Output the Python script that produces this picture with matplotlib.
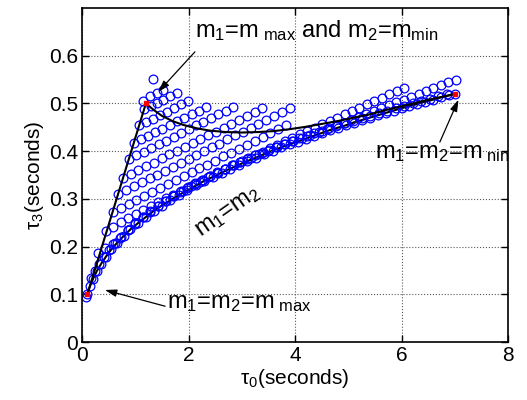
import matplotlib.pyplot as plt

plt.rcParams['font.family'] = ['Liberation Sans', 'DejaVu Sans']
plt.rcParams['mathtext.fontset'] = 'custom'
plt.rcParams['mathtext.rm'] = 'Liberation Sans'
plt.rcParams['mathtext.it'] = 'Liberation Sans:italic'

# template rows (tau0, tau3), top of the fan first
r0_x = [1.33]
r0_y = [0.551]
r1_x = [1.15, 1.27, 1.40, 1.53]
r1_y = [0.505, 0.515, 0.522, 0.528]
r2_x = [1.17, 1.29, 1.41, 1.53, 1.66, 1.78]
r2_y = [0.488, 0.494, 0.501, 0.508, 0.515, 0.522]
r3_x = [1.07, 1.20, 1.33, 1.46, 1.60, 1.73, 1.86, 1.99]
r3_y = [0.454, 0.461, 0.468, 0.476, 0.483, 0.491, 0.498, 0.505]
r4_x = [0.97, 1.11, 1.24, 1.38, 1.51, 1.65, 1.79, 1.92, 2.06, 2.19, 2.33]
r4_y = [0.417, 0.425, 0.432, 0.440, 0.447, 0.455, 0.463, 0.470, 0.478, 0.485, 0.493]
r5_x = [0.88, 1.02, 1.16, 1.30, 1.44, 1.58, 1.72, 1.86, 2.00, 2.14, 2.28, 2.42,
        2.56, 2.70, 2.84]
r5_y = [0.383, 0.391, 0.399, 0.407, 0.414, 0.422, 0.430, 0.438, 0.446, 0.454,
        0.462, 0.469, 0.477, 0.485, 0.493]
r6_x = [0.77, 0.92, 1.06, 1.21, 1.35, 1.50, 1.64, 1.79, 1.93, 2.08, 2.22, 2.37,
        2.51, 2.66, 2.80, 2.95, 3.09, 3.24, 3.38]
r6_y = [0.344, 0.352, 0.360, 0.368, 0.376, 0.385, 0.393, 0.401, 0.409, 0.417,
        0.425, 0.433, 0.441, 0.449, 0.457, 0.466, 0.474, 0.482, 0.490]
r7_x = [0.68, 0.83, 0.97, 1.12, 1.27, 1.41, 1.56, 1.70, 1.85, 2.00, 2.14, 2.29,
        2.44, 2.58, 2.73, 2.88, 3.02, 3.17, 3.31, 3.46, 3.61, 3.75, 3.90]
r7_y = [0.310, 0.318, 0.326, 0.335, 0.343, 0.351, 0.359, 0.367, 0.375, 0.384,
        0.392, 0.400, 0.408, 0.416, 0.425, 0.433, 0.441, 0.449, 0.457, 0.465,
        0.474, 0.482, 0.490]
r8_x = [0.58, 0.73, 0.88, 1.02, 1.17, 1.32, 1.47, 1.61, 1.76, 1.91, 2.06, 2.20,
        2.35, 2.50, 2.65, 2.79, 2.94, 3.09, 3.24, 3.39, 3.53, 3.68, 3.83]
r8_y = [0.273, 0.281, 0.290, 0.298, 0.306, 0.314, 0.323, 0.331, 0.339, 0.347,
        0.356, 0.364, 0.372, 0.380, 0.389, 0.397, 0.405, 0.413, 0.422, 0.430,
        0.438, 0.446, 0.455]
r9_x = [0.45, 0.59, 0.73, 0.87, 1.01, 1.15, 1.29, 1.43, 1.57, 1.71, 1.85, 1.99,
        2.13, 2.27, 2.41, 2.55, 2.69, 2.83, 2.97, 3.11, 3.25, 3.39, 3.53, 3.67,
        3.81, 3.95, 4.09, 4.23, 4.37, 4.51, 4.65, 4.79, 4.93, 5.07, 5.21, 5.35,
        5.49, 5.63, 5.77, 5.91, 6.05]
r9_y = [0.232, 0.242, 0.251, 0.260, 0.269, 0.277, 0.285, 0.293, 0.301, 0.309,
        0.317, 0.325, 0.333, 0.340, 0.348, 0.355, 0.363, 0.370, 0.377, 0.385,
        0.392, 0.399, 0.406, 0.413, 0.421, 0.428, 0.435, 0.442, 0.449, 0.456,
        0.463, 0.470, 0.477, 0.484, 0.491, 0.498, 0.505, 0.512, 0.519, 0.526,
        0.533]

# equal-mass band (m1=m2) and the two rows hugging it
b0_x = [0.10, 0.15, 0.21, 0.28, 0.36, 0.45, 0.55, 0.66, 0.78, 0.91, 1.05, 1.20,
        1.35, 1.50, 1.66, 1.82, 1.98, 2.14, 2.30, 2.46, 2.62, 2.78, 2.94, 3.10,
        3.26, 3.42, 3.58, 3.74, 3.90, 4.05, 4.20, 4.35, 4.50, 4.65, 4.80, 4.95,
        5.10, 5.25, 5.40, 5.55, 5.70, 5.85, 6.00, 6.15, 6.30, 6.45, 6.60, 6.75,
        6.90, 7.00]
b0_y = [0.100, 0.117, 0.133, 0.149, 0.164, 0.179, 0.194, 0.208, 0.222, 0.236,
        0.249, 0.262, 0.275, 0.286, 0.297, 0.308, 0.318, 0.328, 0.338, 0.346,
        0.355, 0.363, 0.371, 0.379, 0.386, 0.394, 0.401, 0.408, 0.414, 0.420,
        0.426, 0.432, 0.438, 0.444, 0.449, 0.454, 0.460, 0.465, 0.470, 0.475,
        0.480, 0.485, 0.490, 0.494, 0.499, 0.504, 0.508, 0.513, 0.517, 0.520]
b1_x = [0.30, 0.44, 0.58, 0.72, 0.86, 1.00, 1.14, 1.28, 1.42, 1.56, 1.70, 1.84,
        1.98, 2.12, 2.26, 2.40, 2.54, 2.68, 2.82, 2.96, 3.10, 3.24, 3.38, 3.52,
        3.66, 3.80, 3.94, 4.08, 4.22, 4.36, 4.50, 4.64, 4.78, 4.92, 5.06, 5.20,
        5.34, 5.48, 5.62, 5.76, 5.90, 6.04, 6.18, 6.32, 6.46, 6.60, 6.74, 6.88,
        7.02]
b1_y = [0.187, 0.196, 0.206, 0.219, 0.234, 0.249, 0.262, 0.274, 0.285, 0.295,
        0.305, 0.315, 0.323, 0.332, 0.340, 0.348, 0.356, 0.363, 0.370, 0.377,
        0.384, 0.391, 0.397, 0.403, 0.409, 0.415, 0.421, 0.427, 0.432, 0.438,
        0.443, 0.448, 0.454, 0.459, 0.466, 0.472, 0.478, 0.484, 0.490, 0.496,
        0.502, 0.508, 0.514, 0.520, 0.526, 0.532, 0.538, 0.544, 0.550]
b2_x = [0.17, 0.24, 0.32, 0.41, 0.51, 0.62, 0.74, 0.87, 1.00, 1.14, 1.28, 1.43,
        1.58, 1.73, 1.89, 2.05, 2.21, 2.37, 2.53, 2.69, 2.85, 3.01, 3.17, 3.33,
        3.49, 3.65, 3.81, 3.97, 4.13, 4.29, 4.45, 4.61, 4.77, 4.93, 5.09, 5.25,
        5.41, 5.57, 5.73, 5.89, 6.05, 6.21, 6.37, 6.53, 6.69, 6.85]
b2_y = [0.134, 0.148, 0.163, 0.178, 0.192, 0.207, 0.221, 0.235, 0.248, 0.261,
        0.273, 0.285, 0.296, 0.306, 0.317, 0.327, 0.336, 0.345, 0.354, 0.363,
        0.371, 0.379, 0.386, 0.394, 0.401, 0.408, 0.415, 0.421, 0.428, 0.434,
        0.440, 0.446, 0.452, 0.458, 0.463, 0.469, 0.474, 0.480, 0.485, 0.490,
        0.495, 0.500, 0.505, 0.510, 0.515, 0.520]
extra_x = [0.08]
extra_y = [0.095]

# boundaries
mmax_x = [0.10, 1.20]                       # m1 = m_max
mmax_y = [0.10, 0.50]
mmin_x = [1.20, 1.35, 1.50, 1.70, 1.90, 2.15, 2.40, 2.70, 3.00, 3.30, 3.60,
          3.90, 4.20, 4.50, 4.80, 5.10, 5.40, 5.70, 6.00, 6.30, 6.60, 6.85, 7.00]
mmin_y = [0.500, 0.486, 0.474, 0.463, 0.455, 0.448, 0.443, 0.440, 0.439, 0.440,
          0.442, 0.446, 0.451, 0.457, 0.463, 0.470, 0.477, 0.486, 0.494, 0.502,
          0.510, 0.516, 0.520]                 # m2 = m_min
corner_x = [0.10, 1.20, 7.00]
corner_y = [0.10, 0.50, 0.52]

rows = [(r0_x, r0_y), (r1_x, r1_y), (r2_x, r2_y), (r3_x, r3_y), (r4_x, r4_y),
        (r5_x, r5_y), (r6_x, r6_y), (r7_x, r7_y), (r8_x, r8_y), (r9_x, r9_y),
        (b0_x, b0_y), (b1_x, b1_y), (b2_x, b2_y), (extra_x, extra_y)]

fig = plt.figure(figsize=(5.27, 4), dpi=100)
ax = fig.add_axes([82 / 527, 58 / 400, 426 / 527, 334 / 400])

for xs, ys in rows:
    ax.plot(xs, ys, 'o', ms=6.3, mfc='none', mec=(0, 0, 1), mew=0.9, zorder=2)

ax.plot(mmax_x, mmax_y, 'k-', lw=1.5, zorder=3)
ax.plot(mmin_x, mmin_y, 'k-', lw=1.5, zorder=3)
ax.plot(b0_x, b0_y, 'k-', lw=1.5, zorder=1)
ax.plot(corner_x, corner_y, 's', ms=3.5, color='r', mec='r', zorder=4)

arrow = dict(arrowstyle='-|>,head_length=0.7,head_width=0.22', color='k',
             lw=0.9, shrinkA=0, shrinkB=0)
ax.annotate('', xy=(1.43, 0.524), xytext=(2.12, 0.608), arrowprops=arrow)
ax.annotate('', xy=(7.07, 0.508), xytext=(6.72, 0.419), arrowprops=arrow)
ax.annotate('', xy=(0.43, 0.109), xytext=(1.56, 0.075), arrowprops=arrow)

ax.text(2.12, 0.639, r'm$_1$=m$_{\ \mathrm{max}}$ and m$_2$=m$_{\mathrm{min}}$',
        fontsize=17, va='baseline', ha='left')
ax.text(5.50, 0.386, r'm$_1$=m$_2$=m$_{\ \mathrm{nin}}$',
        fontsize=17, va='baseline', ha='left')
ax.text(1.60, 0.071, r'm$_1$=m$_2$=m$_{\ \mathrm{max}}$',
        fontsize=17, va='baseline', ha='left')
ax.text(2.74, 0.273, r'm$_1$=m$_2$', fontsize=17, rotation=35,
        ha='center', va='center', rotation_mode='anchor')

ax.set_xlim(0, 8)
ax.set_ylim(0, 0.7)
ax.set_xticks([0, 2, 4, 6, 8])
ax.set_yticks([0, 0.1, 0.2, 0.3, 0.4, 0.5, 0.6])
ax.set_yticklabels(['0', '0.1', '0.2', '0.3', '0.4', '0.5', '0.6'])
ax.tick_params(direction='in', top=True, right=True, length=5, width=1,
               labelsize=15, pad=3)
ax.grid(True, linestyle=':', color='0.35', lw=0.8)
for s in ax.spines.values():
    s.set_linewidth(1.2)
ax.set_xlabel(r'τ$_0$(seconds)', fontsize=15, labelpad=1)
ax.set_ylabel(r'τ$_3$(seconds)', fontsize=15, labelpad=2)

fig.savefig('out.png', dpi=100)
